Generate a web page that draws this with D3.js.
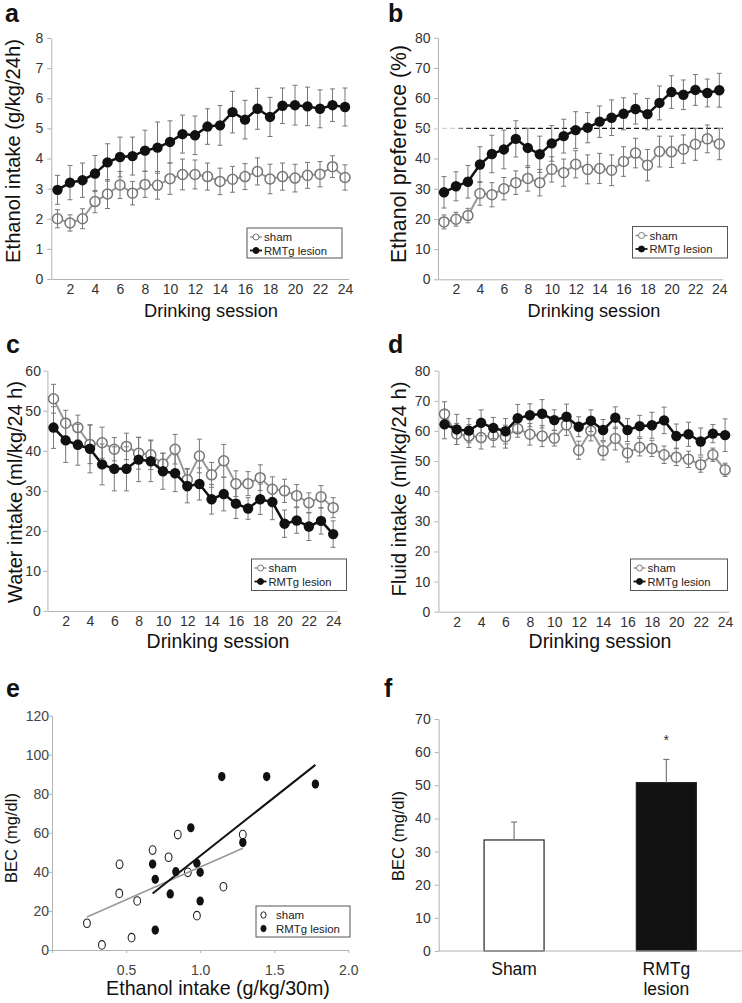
<!DOCTYPE html>
<html>
<head>
<meta charset="utf-8">
<script src="https://cdn.jsdelivr.net/npm/d3@7"></script>
<style>
body { margin: 0; background: #fff; }
svg, svg text { font-family: "Liberation Sans", Arial, Helvetica, sans-serif; }
</style>
</head>
<body>
<svg id="fig" width="742" height="1003"></svg>
<script>
// sessions on the x axis of a-d
const sessions = [1,2,3,4,5,6,7,8,9,10,11,12,13,14,15,16,17,18,19,20,21,22,23,24]
const sessionTicks = [2,4,6,8,10,12,14,16,18,20,22,24]
const groupNames = ['sham', 'RMTg lesion']

// a: ethanol intake (g/kg/24h)
const intakeSham = [2.0,1.86,2.0,2.57,2.82,3.12,2.85,3.14,3.11,3.33,3.47,3.47,3.4,3.24,3.31,3.4,3.57,3.32,3.4,3.35,3.44,3.48,3.73,3.37]
const intakeShamErr = [0.3,0.27,0.33,0.37,0.48,0.45,0.39,0.43,0.46,0.52,0.51,0.48,0.45,0.44,0.43,0.43,0.45,0.49,0.45,0.46,0.43,0.42,0.36,0.42]
const intakeLesion = [2.96,3.2,3.28,3.5,3.87,4.05,4.08,4.26,4.36,4.55,4.81,4.77,5.06,5.1,5.54,5.29,5.65,5.38,5.75,5.77,5.73,5.65,5.77,5.71]
const intakeLesionErr = [0.48,0.57,0.57,0.6,0.62,0.66,0.63,0.68,0.85,0.7,0.63,0.64,0.59,0.66,0.69,0.64,0.68,0.65,0.59,0.66,0.64,0.63,0.54,0.63]

// b: ethanol preference (%)
const prefSham = [19.0,19.9,21.1,28.4,28.0,30.0,32.0,33.4,32.0,36.4,35.3,38.1,36.4,36.7,36.1,39.0,41.8,37.8,42.3,42.2,43.1,44.7,46.5,44.8]
const prefShamErr = [2.3,2.3,2.4,3.9,4.0,3.7,3.9,4.2,4.4,4.2,4.5,4.5,4.8,5.0,5.1,4.9,4.9,5.2,5.1,5.2,4.7,5.3,4.6,5.2]
const prefLesion = [28.8,30.8,32.3,38.0,41.5,43.0,46.5,43.5,41.4,45.0,47.4,49.4,50.2,52.2,53.5,54.8,56.4,54.7,58.4,62.0,61.1,62.7,61.7,62.6]
const prefLesionErr = [5.2,4.8,5.4,5.9,6.2,6.4,6.0,6.5,6.0,5.9,5.6,6.1,5.0,5.2,5.9,5.3,5.0,5.2,5.6,5.4,4.9,5.1,4.6,5.6]
const prefChance = 50

// c: water intake (ml/kg/24 h)
const waterSham = [53.0,46.9,45.8,41.6,42.0,40.4,41.1,39.4,39.0,36.7,40.4,32.8,38.7,34.0,37.5,31.8,31.8,33.3,30.4,30.0,28.8,27.0,28.5,25.8]
const waterShamErr = [3.6,3.2,3.1,4.8,3.9,2.9,3.3,4.0,3.7,2.7,3.7,2.8,4.2,3.1,4.1,3.2,3.0,3.2,3.1,2.9,2.8,2.5,2.8,2.5]
const waterLesion = [45.8,42.6,41.5,40.5,36.6,35.5,35.5,37.8,37.4,34.9,34.4,31.2,31.7,27.9,29.2,26.8,25.6,27.9,27.2,21.8,22.6,21.1,22.5,19.2]
const waterLesionErr = [5.2,5.5,5.1,6.0,5.1,5.5,5.5,5.5,5.1,4.5,4.6,4.2,4.0,3.7,4.2,3.7,2.7,3.8,4.4,3.4,3.2,3.5,3.3,3.3]

// d: fluid intake (ml/kg/24 h)
const fluidSham = [65.6,59.0,58.3,57.8,58.5,58.1,60.7,58.9,58.3,57.6,62.0,53.6,60.1,53.4,57.5,52.7,54.6,54.2,52.1,51.3,50.6,48.8,52.1,47.1]
const fluidShamErr = [4.1,3.5,3.8,3.8,3.8,3.8,2.8,3.6,3.5,2.6,3.5,3.0,3.4,3.0,3.8,3.0,2.9,2.7,2.9,2.8,2.7,2.5,2.2,2.2]
const fluidLesion = [62.2,60.5,60.1,62.7,61.0,59.9,64.2,65.2,65.7,63.6,64.7,61.4,63.4,60.3,64.4,60.3,61.6,61.9,63.5,58.3,58.9,56.5,59.1,58.6]
const fluidLesionErr = [4.8,5.0,4.0,4.3,3.5,4.2,4.6,3.8,4.7,3.4,4.2,3.3,3.6,3.5,3.6,3.8,3.6,4.3,4.4,4.0,4.0,4.5,3.0,5.4]

// e: BEC vs ethanol intake in 30 min
const shamIntake30 = [0.236,0.337,0.456,0.454,0.575,0.537,0.679,0.787,0.849,0.917,0.978,1.157,1.288]
const shamBEC = [13.7,2.6,43.9,29.0,25.1,6.3,51.2,47.5,59.1,39.8,17.6,32.4,59.1]
const lesionIntake30 = [0.679,0.697,0.697,0.798,0.836,0.937,0.978,1.0,1.0,1.146,1.449,1.288,1.778]
const lesionBEC = [44.0,36.2,10.2,28.7,40.1,62.6,44.4,39.8,25.1,88.8,88.8,55.0,85.0]
const shamFit = [33.5, 8.96]      // slope, intercept
const lesionFit = [59.9, -11.7]

// f: mean BEC
const becGroups = ['Sham', 'RMTg lesion']
const becMean = [33.5, 50.8]
const becSem = [5.4, 7.0]

const FONT = 'Liberation Sans, Arial, Helvetica, sans-serif'
const svg = d3.select('#fig')

const styleAxis = (g, labelSize) => {
    g.attr('font-family', FONT)
    g.select('.domain').attr('stroke', '#b3b3b3')
    g.selectAll('.tick line').attr('stroke', '#b3b3b3')
    g.selectAll('.tick text').attr('fill', '#333').attr('font-size', labelSize).attr('font-family', FONT)
}

// shrink or grow a text so it covers the span seen in the figure
const fitSpan = (t, size, span) => {
    const len = t.node().getComputedTextLength()
    if (span && len > 0) t.attr('font-size', size * span / len)
}

const panelLetter = (txt, x, y) => {
    svg.append('text').attr('x', x).attr('y', y)
        .attr('font-family', FONT)
        .attr('font-size', 25).attr('font-weight', 'bold').attr('fill', '#111')
        .text(txt)
}

const yLabel = (txt, x, y, size, span) => {
    const t = svg.append('text')
        .attr('transform', `translate(${x},${y}) rotate(-90)`)
        .attr('font-family', FONT)
        .attr('text-anchor', 'middle').attr('font-size', size).attr('fill', '#111')
        .text(txt)
    fitSpan(t, size, span)
}

const xLabel = (txt, x, y, size, span) => {
    const t = svg.append('text').attr('x', x).attr('y', y)
        .attr('font-family', FONT)
        .attr('text-anchor', 'middle').attr('font-size', size).attr('fill', '#111')
        .text(txt)
    fitSpan(t, size, span)
}

const legend = (x, y, w, h, kind) => {
    const g = svg.append('g').attr('transform', `translate(${x},${y})`).attr('font-family', FONT)
    g.append('rect').attr('width', w).attr('height', h)
        .attr('fill', '#fff').attr('stroke', '#555').attr('stroke-width', 1)
    groupNames.forEach((name, i) => {
        const ly = 9 + i * 13.5
        if (kind === 'line') {
            g.append('line').attr('x1', 3).attr('x2', 15).attr('y1', ly).attr('y2', ly)
                .attr('stroke', i === 0 ? '#888' : '#111').attr('stroke-width', i === 0 ? 1.3 : 1.8)
            g.append('circle').attr('cx', 9).attr('cy', ly).attr('r', 3)
                .attr('fill', i === 0 ? '#fff' : '#111').attr('stroke', i === 0 ? '#777' : '#111')
            const t = g.append('text').attr('x', 17).attr('y', ly + 4).attr('font-size', 11.5).attr('fill', '#222').text(name)
            if (i === 1) fitSpan(t, 11.5, 63)
        } else {
            g.append('ellipse').attr('cx', 7.5).attr('cy', ly).attr('rx', 2.6).attr('ry', 3.2)
                .attr('fill', i === 0 ? '#fff' : '#111').attr('stroke', '#222')
            const t = g.append('text').attr('x', 20).attr('y', ly + 4).attr('font-size', 11.5).attr('fill', '#222').text(name)
            if (i === 1) fitSpan(t, 11.5, 64)
        }
    })
}

const sessionPanel = (cfg) => {
    const x = d3.scaleLinear()
        .domain([0.5, 24.3])
        .range([cfg.s1 - 0.5 * cfg.step, cfg.s1 + 23.3 * cfg.step])
    const y = d3.scaleLinear().domain([0, cfg.yMax]).range([cfg.y0, cfg.yTop])

    svg.append('g')
        .attr('transform', `translate(0,${cfg.y0})`)
        .call(d3.axisBottom(x).tickValues(sessionTicks).tickSize(0).tickPadding(5).tickSizeOuter(0))
        .call(g => styleAxis(g, 14))

    svg.append('g')
        .attr('transform', `translate(${x(0.5)},0)`)
        .call(d3.axisLeft(y).ticks(cfg.yMax / cfg.yStep).tickSize(4).tickPadding(cfg.pad).tickSizeOuter(0))
        .call(g => styleAxis(g, 14))

    if (cfg.refLine !== undefined) {
        const grad = svg.append('defs').append('linearGradient')
            .attr('id', 'dashfade').attr('gradientUnits', 'userSpaceOnUse')
            .attr('x1', x(0.5) - 15).attr('x2', x(3.4)).attr('y1', 0).attr('y2', 0)
        grad.append('stop').attr('offset', 0).attr('stop-color', '#e2e2e2')
        grad.append('stop').attr('offset', 0.6).attr('stop-color', '#d0d0d0')
        grad.append('stop').attr('offset', 1).attr('stop-color', '#111')
        svg.append('line')
            .attr('x1', x(0.5) - 20).attr('x2', x(24.3))
            .attr('y1', y(cfg.refLine)).attr('y2', y(cfg.refLine))
            .attr('stroke', 'url(#dashfade)').attr('stroke-width', 1.2)
            .attr('stroke-dasharray', '5,3')
    }

    const line = d3.line().x((d, i) => x(sessions[i])).y(d => y(d))

    const errBars = (vals, errs, color) => {
        const g = svg.append('g').attr('stroke', color).attr('stroke-width', 1)
        vals.forEach((v, i) => {
            const cx = x(sessions[i])
            g.append('line').attr('x1', cx).attr('x2', cx).attr('y1', y(v - errs[i])).attr('y2', y(v + errs[i]))
            g.append('line').attr('x1', cx - 2.5).attr('x2', cx + 2.5).attr('y1', y(v - errs[i])).attr('y2', y(v - errs[i]))
            g.append('line').attr('x1', cx - 2.5).attr('x2', cx + 2.5).attr('y1', y(v + errs[i])).attr('y2', y(v + errs[i]))
        })
    }

    // sham
    svg.append('path').datum(cfg.sham).attr('d', line)
        .attr('fill', 'none').attr('stroke', '#999').attr('stroke-width', 2)
    svg.append('g').selectAll('circle').data(cfg.sham).enter()
        .append('circle')
        .attr('cx', (d, i) => x(sessions[i])).attr('cy', d => y(d)).attr('r', 5)
        .attr('fill', '#fff').attr('stroke', '#777').attr('stroke-width', 1.5)
    errBars(cfg.sham, cfg.shamErr, '#777')

    // lesion
    errBars(cfg.lesion, cfg.lesionErr, '#777')
    svg.append('path').datum(cfg.lesion).attr('d', line)
        .attr('fill', 'none').attr('stroke', '#111').attr('stroke-width', 2.5)
    svg.append('g').selectAll('circle').data(cfg.lesion).enter()
        .append('circle')
        .attr('cx', (d, i) => x(sessions[i])).attr('cy', d => y(d)).attr('r', 5.2)
        .attr('fill', '#111')
}

/* a */
sessionPanel({ s1: 57.5, step: 12.5, y0: 279, yTop: 38, yMax: 8, yStep: 1, pad: 4,
    sham: intakeSham, shamErr: intakeShamErr, lesion: intakeLesion, lesionErr: intakeLesionErr })
panelLetter('a', 5, 22)
yLabel('Ethanol intake (g/kg/24h)', 20, 151, 20, 224)
xLabel('Drinking session', 211, 317, 18, 134)
legend(247, 228, 95, 30, 'line')

/* b */
sessionPanel({ s1: 444, step: 11.97, y0: 279.3, yTop: 37.7, yMax: 80, yStep: 10, pad: 3.5,
    sham: prefSham, shamErr: prefShamErr, lesion: prefLesion, lesionErr: prefLesionErr, refLine: prefChance })
panelLetter('b', 388, 22)
yLabel('Ethanol preference (%)', 406, 154, 21, 218)
xLabel('Drinking session', 594, 317, 18, 133)
legend(632.5, 226.5, 95, 31.5, 'line')

/* c */
sessionPanel({ s1: 53.5, step: 12.16, y0: 611, yTop: 370.7, yMax: 60, yStep: 10, pad: 2.5,
    sham: waterSham, shamErr: waterShamErr, lesion: waterLesion, lesionErr: waterLesionErr })
panelLetter('c', 6, 353)
yLabel('Water intake (ml/kg/24 h)', 22, 492, 20, 222)
xLabel('Drinking session', 218, 648, 19, 143)
legend(251.5, 559, 95, 31.5, 'line')

/* d */
sessionPanel({ s1: 444.5, step: 12.2, y0: 611.7, yTop: 370.7, yMax: 80, yStep: 10, pad: 4,
    sham: fluidSham, shamErr: fluidShamErr, lesion: fluidLesion, lesionErr: fluidLesionErr })
panelLetter('d', 388, 353)
yLabel('Fluid intake (ml/kg/24 h)', 406, 489, 20, 215)
xLabel('Drinking session', 600, 648, 19, 143)
legend(630.5, 559, 97, 31.5, 'line')

/* e: scatter */
{
    const x = d3.scaleLinear().domain([0, 2]).range([52, 348.3])
    const y = d3.scaleLinear().domain([0, 120]).range([950, 715.7])

    svg.append('g').attr('transform', 'translate(0,950)')
        .call(d3.axisBottom(x).tickValues([0, 0.5, 1, 1.5, 2]).tickSize(3).tickPadding(12).tickSizeOuter(0)
            .tickFormat(d => d === 0 ? '' : d3.format('.1f')(d)))
        .call(g => styleAxis(g, 14))
        .call(g => g.selectAll('.tick text').attr('fill', '#444'))
    svg.append('g').attr('transform', 'translate(52,0)')
        .call(d3.axisLeft(y).tickValues([0, 20, 40, 60, 80, 100, 120]).tickSize(3).tickPadding(0).tickSizeOuter(0))
        .call(g => styleAxis(g, 14))
        .call(g => g.selectAll('.tick text').attr('fill', '#444'))

    const fitLine = (xs, fit, color, w) => {
        const ext = d3.extent(xs)
        svg.append('line')
            .attr('x1', x(ext[0])).attr('y1', y(fit[0] * ext[0] + fit[1]))
            .attr('x2', x(ext[1])).attr('y2', y(fit[0] * ext[1] + fit[1]))
            .attr('stroke', color).attr('stroke-width', w)
    }

    svg.append('g').selectAll('ellipse').data(shamIntake30).enter()
        .append('ellipse')
        .attr('cx', d => x(d)).attr('cy', (d, i) => y(shamBEC[i]))
        .attr('rx', 3.4).attr('ry', 4.3)
        .attr('fill', '#fff').attr('stroke', '#222').attr('stroke-width', 1.1)
    svg.append('g').selectAll('ellipse').data(lesionIntake30).enter()
        .append('ellipse')
        .attr('cx', d => x(d)).attr('cy', (d, i) => y(lesionBEC[i]))
        .attr('rx', 3.7).attr('ry', 4.6)
        .attr('fill', '#111')

    fitLine(shamIntake30, shamFit, '#999', 1.6)
    fitLine(lesionIntake30, lesionFit, '#111', 2)

    panelLetter('e', 6, 697)
    yLabel('BEC (mg/dl)', 17, 838, 16.5)
    xLabel('Ethanol intake (g/kg/30m)', 218, 995, 19.5, 224)
    legend(256, 906, 94, 31, 'dot')
}

/* f: bars */
{
    const x = d3.scaleBand().domain(becGroups).range([438.7, 741.7])
        .paddingInner(0.606).paddingOuter(0.298)
    const y = d3.scaleLinear().domain([0, 70]).range([951, 719])

    svg.append('g').attr('transform', 'translate(438.7,0)')
        .call(d3.axisLeft(y).ticks(7).tickSize(4).tickPadding(4).tickSizeOuter(0))
        .call(g => styleAxis(g, 14))

    svg.selectAll('rect.bar').data(becMean).enter()
        .append('rect').attr('class', 'bar')
        .attr('x', (d, i) => x(becGroups[i])).attr('width', x.bandwidth())
        .attr('y', d => y(d)).attr('height', d => y(0) - y(d))
        .attr('fill', (d, i) => i === 0 ? '#fff' : '#111')
        .attr('stroke', '#222').attr('stroke-width', 1.2)

    becMean.forEach((v, i) => {
        const cx = x(becGroups[i]) + x.bandwidth() / 2
        svg.append('line').attr('x1', cx).attr('x2', cx).attr('y1', y(v)).attr('y2', y(v + becSem[i]))
            .attr('stroke', '#777').attr('stroke-width', 1.2)
        svg.append('line').attr('x1', cx - 3).attr('x2', cx + 3).attr('y1', y(v + becSem[i])).attr('y2', y(v + becSem[i]))
            .attr('stroke', '#777').attr('stroke-width', 1.2)
    })

    svg.append('line').attr('x1', 438.7).attr('x2', 741.7).attr('y1', y(0)).attr('y2', y(0))
        .attr('stroke', '#b3b3b3')

    const lesionX = x(becGroups[1]) + x.bandwidth() / 2
    svg.append('text').attr('x', lesionX).attr('y', y(becMean[1] + becSem[1]) - 14)
        .attr('font-family', FONT)
        .attr('text-anchor', 'middle').attr('font-size', 14).attr('fill', '#333').text('*')

    becGroups.forEach((name, i) => {
        const words = name.split(' ')
        const t = svg.append('text').attr('text-anchor', 'middle').attr('font-family', FONT)
            .attr('font-size', 17.5).attr('fill', '#111')
        words.forEach((w, j) => {
            t.append('tspan').attr('x', x(name) + x.bandwidth() / 2).attr('y', 975 + j * 20).text(w)
        })
    })

    panelLetter('f', 384, 697)
    yLabel('BEC (mg/dl)', 404, 836, 16.5)
}
</script>
</body>
</html>
